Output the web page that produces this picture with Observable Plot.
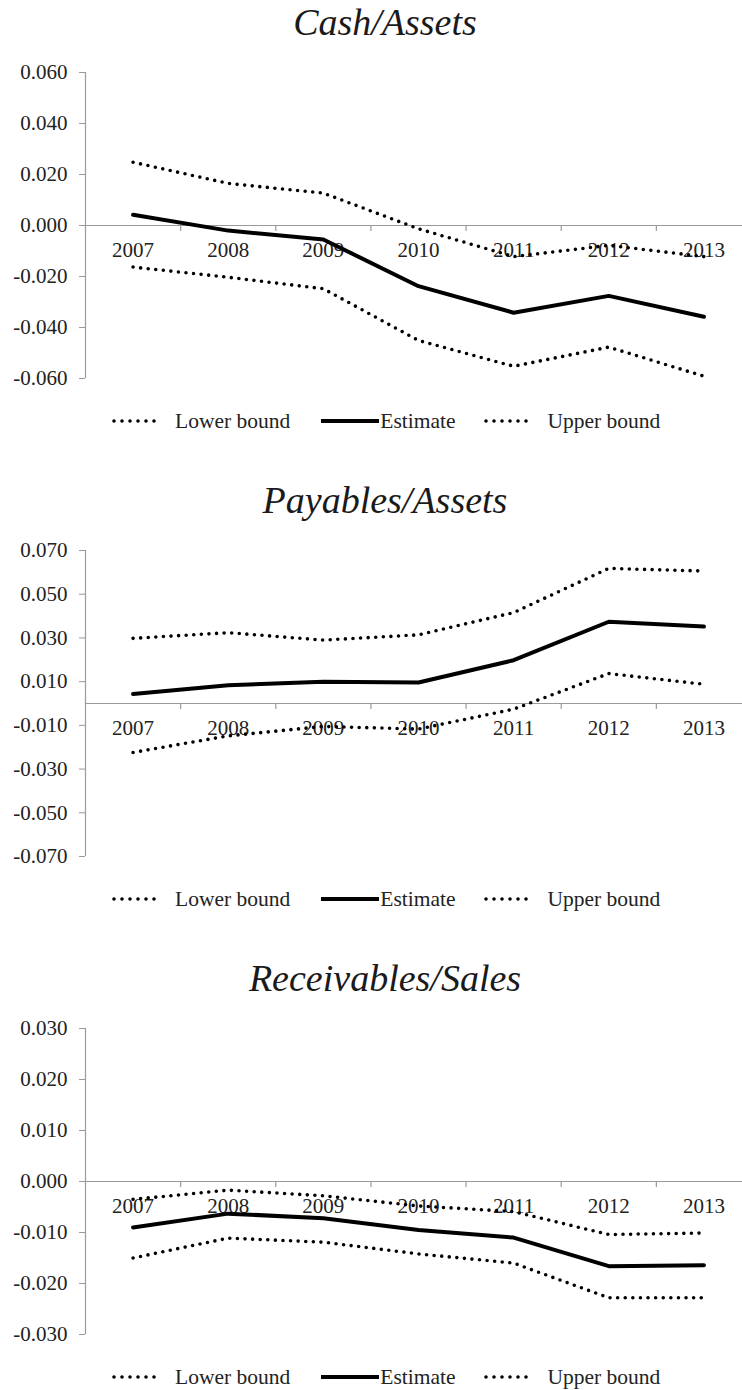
<!DOCTYPE html>
<html>
<head>
<meta charset="utf-8">
<script src="https://cdn.jsdelivr.net/npm/d3@7"></script>
<script src="https://cdn.jsdelivr.net/npm/@observablehq/plot@0.6"></script>
<style>
  html, body { margin: 0; padding: 0; background: #fff; }
  body { width: 742px; height: 1390px; overflow: hidden; font-family: "Liberation Serif", "Times New Roman", serif; color: #222; }
  .panel { position: relative; width: 742px; height: 478px; }
  .title { position: absolute; left: 0; top: -1px; width: 770px; text-align: center; font-family: "Liberation Serif", serif; font-style: italic; font-size: 38px; line-height: 46px; color: #1a1a1a; }
  .plot { position: absolute; left: 0; top: 50px; }
  .legend { position: absolute; left: 112px; top: 408px; height: 26px; display: flex; align-items: center; font-family: "Liberation Serif", serif; font-size: 21.5px; color: #222; white-space: nowrap; }
  .legend svg { display: block; }
</style>
</head>
<body>
<div id="root"></div>
<script>
// ---- data ----
const years = [2007, 2008, 2009, 2010, 2011, 2012, 2013];
const seriesNames = ["Lower bound", "Estimate", "Upper bound"];
const panelTitles = ["Cash/Assets", "Payables/Assets", "Receivables/Sales"];

const cashEstimate = [0.0042, -0.0020, -0.0055, -0.0238, -0.0342, -0.0276, -0.0358];
const cashLower    = [-0.0163, -0.0203, -0.0248, -0.0451, -0.0552, -0.0477, -0.0591];
const cashUpper    = [0.0248, 0.0165, 0.0127, -0.0013, -0.0122, -0.0078, -0.0122];

const payEstimate = [0.0043, 0.0084, 0.0099, 0.0096, 0.0198, 0.0374, 0.0352];
const payLower    = [-0.0224, -0.0148, -0.0105, -0.0117, -0.0026, 0.0137, 0.0088];
const payUpper    = [0.0298, 0.0324, 0.0290, 0.0314, 0.0416, 0.0618, 0.0606];

const recEstimate = [-0.0090, -0.0063, -0.0072, -0.0095, -0.0110, -0.0166, -0.0164];
const recLower    = [-0.0150, -0.0111, -0.0119, -0.0142, -0.0160, -0.0228, -0.0228];
const recUpper    = [-0.0035, -0.0017, -0.0028, -0.0048, -0.0059, -0.0104, -0.0101];

const cashTicks = [-0.06, -0.04, -0.02, 0, 0.02, 0.04, 0.06];
const payTicks  = [-0.07, -0.05, -0.03, -0.01, 0.01, 0.03, 0.05, 0.07];
const recTicks  = [-0.03, -0.02, -0.01, 0, 0.01, 0.02, 0.03];

const panels = [
  {title: panelTitles[0], est: cashEstimate, lo: cashLower, hi: cashUpper, ticks: cashTicks},
  {title: panelTitles[1], est: payEstimate, lo: payLower, hi: payUpper, ticks: payTicks},
  {title: panelTitles[2], est: recEstimate, lo: recLower, hi: recUpper, ticks: recTicks}
];

const axisGrey = "#9a9a9a";
const dotted = {stroke: "#000", strokeWidth: 3.6, strokeDasharray: "0 7.6", strokeLinecap: "round"};
const solid = {stroke: "#000", strokeWidth: 4, strokeLinejoin: "round"};

const root = document.getElementById("root");

function fmt(v) { return (Math.abs(v) < 1e-12 ? 0 : v).toFixed(3); }

function legendItem(kind, label) {
  const frag = document.createElement("div");
  frag.style.display = "flex";
  frag.style.alignItems = "center";
  const ns = "http://www.w3.org/2000/svg";
  const svg = document.createElementNS(ns, "svg");
  const w = kind === "solid" ? 58 : 52;
  svg.setAttribute("width", w);
  svg.setAttribute("height", 10);
  const ln = document.createElementNS(ns, "line");
  ln.setAttribute("x1", kind === "solid" ? 0 : 2);
  ln.setAttribute("x2", kind === "solid" ? w : w - 2);
  ln.setAttribute("y1", 5);
  ln.setAttribute("y2", 5);
  ln.setAttribute("stroke", "#000");
  if (kind === "solid") {
    ln.setAttribute("stroke-width", 4);
  } else {
    ln.setAttribute("stroke-width", 3.6);
    ln.setAttribute("stroke-dasharray", "0 8");
    ln.setAttribute("stroke-linecap", "round");
  }
  svg.appendChild(ln);
  frag.appendChild(svg);
  const span = document.createElement("span");
  span.textContent = label;
  span.style.marginLeft = kind === "solid" ? "1px" : "11px";
  frag.appendChild(span);
  return frag;
}

panels.forEach((p, k) => {
  const div = document.createElement("div");
  div.className = "panel";
  if (k === 2) div.style.height = "434px";
  const t = document.createElement("div");
  t.className = "title";
  t.textContent = p.title;
  div.appendChild(t);

  const rows = years.map((yr, i) => ({year: yr, est: p.est[i], lo: p.lo[i], hi: p.hi[i]}));
  const ymin = p.ticks[0], ymax = p.ticks[p.ticks.length - 1];
  const bounds = years.map(y => y + 0.5);

  const chart = Plot.plot({
    width: 742,
    height: 348,
    marginTop: 22,
    marginBottom: 20,
    marginLeft: 85,
    marginRight: 0,
    style: {fontFamily: "'Liberation Serif', 'Times New Roman', serif", fontSize: "21px", color: "#222", background: "transparent", overflow: "visible"},
    x: {domain: [2006.5, 2013.5], range: [85, 751], axis: null},
    y: {domain: [ymin, ymax], axis: null},
    marks: [
      Plot.ruleX([2006.5], {y1: ymin, y2: ymax, stroke: axisGrey, strokeWidth: 1.2}),
      Plot.axisY(p.ticks, {anchor: "left", tickSize: 6, tickPadding: 12, tickFormat: fmt, fontSize: 21, fontFamily: "Liberation Serif", stroke: axisGrey, fill: "#222"}),
      Plot.ruleY([0], {stroke: axisGrey, strokeWidth: 1.2}),
      Plot.ruleX(bounds, {y1: 0, y2: 0, insetBottom: -6, stroke: axisGrey, strokeWidth: 1.2}),
      Plot.text(years, {x: d => d, y: () => 0, text: d => String(d), dy: 25, fontSize: 21, fontFamily: "Liberation Serif", fill: "#222"}),
      Plot.line(rows, {x: "year", y: "hi", ...dotted}),
      Plot.line(rows, {x: "year", y: "lo", ...dotted}),
      Plot.line(rows, {x: "year", y: "est", ...solid})
    ]
  });
  chart.classList.add("plot");
  div.appendChild(chart);

  const lg = document.createElement("div");
  lg.className = "legend";
  const a = legendItem("dotted", seriesNames[0]);
  const b = legendItem("solid", seriesNames[1]);
  const c = legendItem("dotted", seriesNames[2]);
  b.style.marginLeft = "31px";
  c.style.marginLeft = "29px";
  lg.appendChild(a); lg.appendChild(b); lg.appendChild(c);
  div.appendChild(lg);

  root.appendChild(div);
});
</script>
</body>
</html>
